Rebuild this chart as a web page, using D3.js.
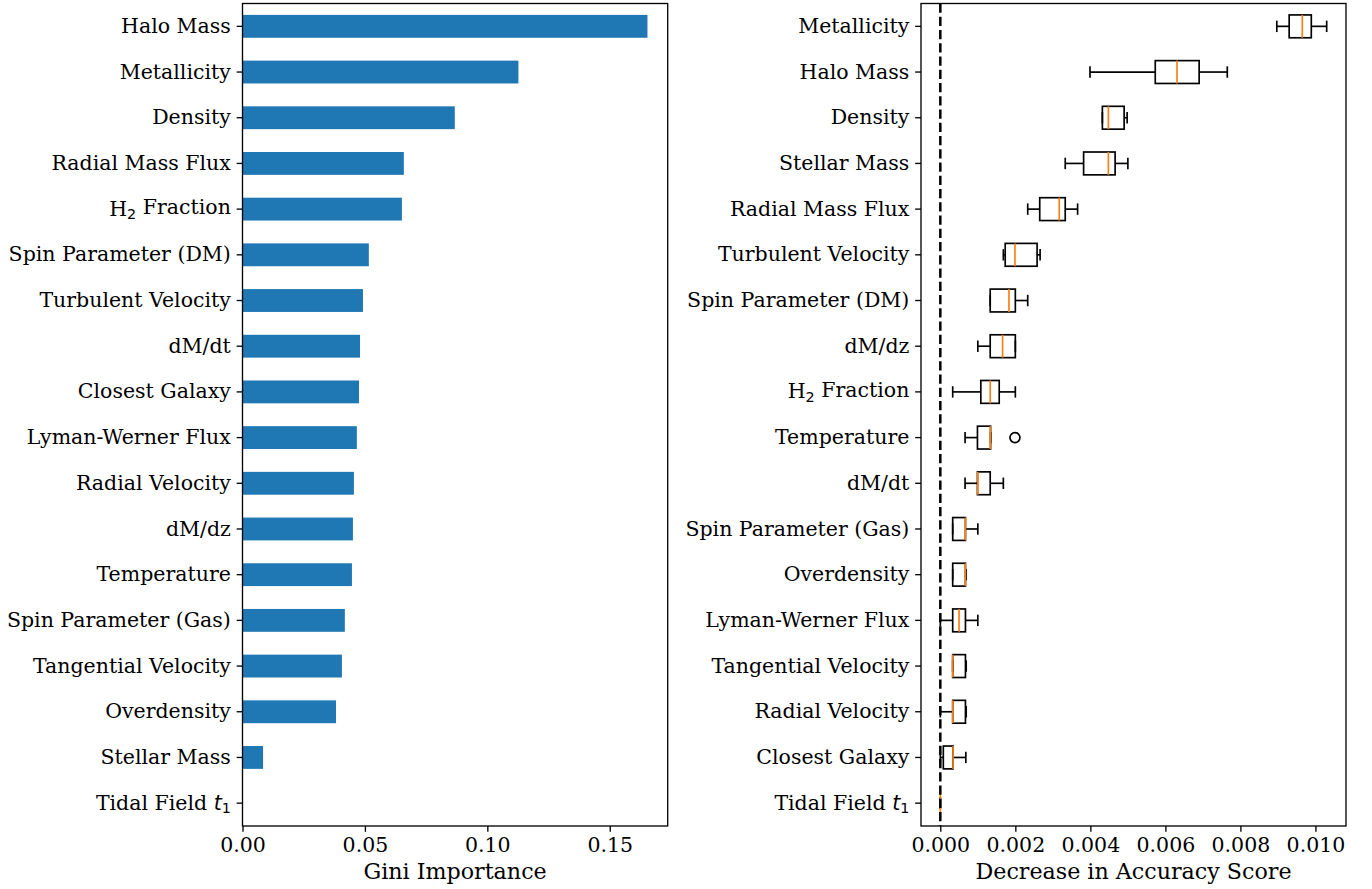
<!DOCTYPE html>
<html>
<head>
<meta charset="utf-8">
<script src="https://cdn.jsdelivr.net/npm/d3@7"></script>
<style>
  html, body { margin: 0; padding: 0; background: #ffffff; }
  svg { display: block; }
  text { font-family: "DejaVu Serif", serif; fill: #000; }
</style>
</head>
<body>
<svg id="chart" width="1372" height="889"></svg>
<script>
// ---- Gini importance (left panel), ordered top to bottom ----
const giniFeatures = [
  "Halo Mass", "Metallicity", "Density", "Radial Mass Flux", "H$_2$ Fraction",
  "Spin Parameter (DM)", "Turbulent Velocity", "dM/dt", "Closest Galaxy",
  "Lyman-Werner Flux", "Radial Velocity", "dM/dz", "Temperature",
  "Spin Parameter (Gas)", "Tangential Velocity", "Overdensity", "Stellar Mass",
  "Tidal Field $t_1$"
];
const giniValues = [
  0.1654, 0.1127, 0.0867, 0.0659, 0.0651,
  0.0516, 0.0492, 0.0480, 0.0476,
  0.0467, 0.0455, 0.0451, 0.0447,
  0.0418, 0.0406, 0.0382, 0.0084,
  0.0000
];
const giniTicks = [0, 0.05, 0.10, 0.15];

// ---- Permutation importance (right panel), ordered top to bottom ----
const permFeatures = [
  "Metallicity", "Halo Mass", "Density", "Stellar Mass", "Radial Mass Flux",
  "Turbulent Velocity", "Spin Parameter (DM)", "dM/dz", "H$_2$ Fraction",
  "Temperature", "dM/dt", "Spin Parameter (Gas)", "Overdensity",
  "Lyman-Werner Flux", "Tangential Velocity", "Radial Velocity",
  "Closest Galaxy", "Tidal Field $t_1$"
];
const permWhiskerLow = [
  0.00897, 0.00399, 0.00432, 0.00333, 0.00233,
  0.00168, 0.00133, 0.00100, 0.00033,
  0.00066, 0.00066, 0.00033, 0.00033,
  0.00000, 0.00033, 0.00000,
  0.00000, 0.00000
];
const permQ1 = [
  0.00930, 0.00573, 0.00432, 0.00382, 0.00265,
  0.00173, 0.00133, 0.00133, 0.00108,
  0.00099, 0.00099, 0.00033, 0.00033,
  0.00033, 0.00033, 0.00033,
  0.00008, 0.00000
];
const permMedian = [
  0.00965, 0.00631, 0.00448, 0.00448, 0.00317,
  0.00199, 0.00183, 0.00166, 0.00133,
  0.00133, 0.00100, 0.00067, 0.00067,
  0.00050, 0.00033, 0.00033,
  0.00034, 0.00000
];
const permQ3 = [
  0.00989, 0.00690, 0.00490, 0.00466, 0.00333,
  0.00258, 0.00200, 0.00200, 0.00157,
  0.00134, 0.00133, 0.00067, 0.00067,
  0.00067, 0.00067, 0.00067,
  0.00034, 0.00000
];
const permWhiskerHigh = [
  0.01030, 0.00765, 0.00498, 0.00500, 0.00366,
  0.00266, 0.00233, 0.00200, 0.00200,
  0.00134, 0.00168, 0.00100, 0.00069,
  0.00100, 0.00069, 0.00069,
  0.00068, 0.00000
];
const permFliers = [
  [], [], [], [], [],
  [], [], [], [],
  [0.00199], [], [], [],
  [], [], [],
  [], []
];
const permTicks = [0, 0.002, 0.004, 0.006, 0.008, 0.010];

// ---- Layout ----
const PT = 1.667;               // px per point
const FONT = 20.5;              // tick label size in px
const LABEL_FONT = 22.2;        // axis title size in px
const TICK = 3.5 * PT;
const PAD = 3.5 * PT;
const plotTop = 3.5, plotBottom = 826;
const leftBox = { x0: 242.5, x1: 667.7 };
const rightBox = { x0: 921, x1: 1346 };
const barColor = "#1f77b4";
const medianColor = "#ff7f0e";

const svg = d3.select("#chart");

// Writes a label that may contain simple $base_sub$ math fragments.
function writeLabel(textSel, label) {
  textSel.text(null);
  const segs = [];
  label.split("$").forEach((part, i) => {
    if (part === "") return;
    if (i % 2 === 0) { segs.push({ text: part, kind: "plain" }); return; }
    const m = part.match(/^([^_]*)_(.+)$/);
    if (m) {
      if (m[1]) segs.push({ text: m[1], kind: "math" });
      segs.push({ text: m[2], kind: "sub" });
    } else {
      segs.push({ text: part, kind: "math" });
    }
  });
  let shift = 0;
  segs.forEach(s => {
    const ts = textSel.append("tspan").text(s.text);
    const target = s.kind === "sub" ? 0.22 : 0;
    if (target !== shift) { ts.attr("dy", (target - shift) + "em"); shift = target; }
    if (s.kind !== "plain") ts.style("font-family", "'DejaVu Sans', sans-serif");
    if (s.kind === "math") ts.style("font-style", "italic");
    if (s.kind === "sub") ts.style("font-size", (FONT * 0.7) + "px");
  });
}

function drawFrame(box) {
  svg.append("rect")
    .attr("x", box.x0).attr("y", plotTop)
    .attr("width", box.x1 - box.x0).attr("height", plotBottom - plotTop)
    .attr("fill", "none").attr("stroke", "#000").attr("stroke-width", 0.8 * PT);
}

function drawAxes(x, y, box, ticks, fmt, title, labels) {
  const gx = svg.append("g").attr("transform", `translate(0,${plotBottom})`)
    .call(d3.axisBottom(x).tickValues(ticks).tickFormat(fmt)
      .tickSize(TICK).tickPadding(PAD));
  gx.select(".domain").remove();
  gx.selectAll(".tick line").attr("stroke", "#000").attr("stroke-width", 0.8 * PT);
  gx.selectAll("text").style("font-size", FONT + "px")
    .style("font-family", "'DejaVu Serif', serif");

  const gy = svg.append("g").attr("transform", `translate(${box.x0},0)`)
    .call(d3.axisLeft(y).tickSize(TICK).tickPadding(PAD));
  gy.select(".domain").remove();
  gy.selectAll(".tick line").attr("stroke", "#000").attr("stroke-width", 0.8 * PT);
  gy.selectAll(".tick text")
    .style("font-size", FONT + "px")
    .style("font-family", "'DejaVu Serif', serif")
    .each(function (d) { writeLabel(d3.select(this), labels[d]); });

  svg.append("text")
    .attr("x", (box.x0 + box.x1) / 2).attr("y", 879)
    .attr("text-anchor", "middle")
    .style("font-size", LABEL_FONT + "px")
    .text(title);
}

// ---- Left panel: Gini importance bars ----
{
  const idx = d3.range(giniFeatures.length);
  const xMax = d3.max(giniValues) * 1.05;
  const x = d3.scaleLinear().domain([0, xMax]).range([leftBox.x0, leftBox.x1]);
  const y = d3.scaleBand().domain(idx).range([plotTop, plotBottom])
    .paddingInner(0.5).paddingOuter(0.25);

  svg.append("g").selectAll("rect").data(idx).join("rect")
    .attr("x", x(0))
    .attr("y", i => y(i))
    .attr("width", i => x(giniValues[i]) - x(0))
    .attr("height", y.bandwidth())
    .attr("fill", barColor);

  drawFrame(leftBox);
  drawAxes(x, y, leftBox, giniTicks, d3.format(".2f"), "Gini Importance", giniFeatures);
}

// ---- Right panel: permutation importance box plots ----
{
  const idx = d3.range(permFeatures.length);
  const lo = Math.min(0, d3.min(permWhiskerLow));
  const hi = d3.max(permWhiskerHigh);
  const m = (hi - lo) * 0.05;
  const x = d3.scaleLinear().domain([lo - m, hi + m]).range([rightBox.x0, rightBox.x1]);
  const y = d3.scaleBand().domain(idx).range([plotTop, plotBottom])
    .paddingInner(0.5).paddingOuter(0.25);
  const bw = y.bandwidth();
  const lw = 1 * PT;

  const g = svg.append("g");
  idx.forEach(i => {
    const y0 = y(i), yc = y0 + bw / 2;
    const capH = bw / 2;
    const row = g.append("g");
    // whiskers
    row.append("line")
      .attr("x1", x(permWhiskerLow[i])).attr("x2", x(permQ1[i]))
      .attr("y1", yc).attr("y2", yc)
      .attr("stroke", "#000").attr("stroke-width", lw);
    row.append("line")
      .attr("x1", x(permQ3[i])).attr("x2", x(permWhiskerHigh[i]))
      .attr("y1", yc).attr("y2", yc)
      .attr("stroke", "#000").attr("stroke-width", lw);
    // caps
    [permWhiskerLow[i], permWhiskerHigh[i]].forEach(v => {
      row.append("line")
        .attr("x1", x(v)).attr("x2", x(v))
        .attr("y1", yc - capH / 2).attr("y2", yc + capH / 2)
        .attr("stroke", "#000").attr("stroke-width", lw);
    });
    // box
    row.append("rect")
      .attr("x", x(permQ1[i])).attr("y", y0)
      .attr("width", Math.max(0, x(permQ3[i]) - x(permQ1[i])))
      .attr("height", bw)
      .attr("fill", "none").attr("stroke", "#000").attr("stroke-width", lw);
    // median
    row.append("line")
      .attr("x1", x(permMedian[i])).attr("x2", x(permMedian[i]))
      .attr("y1", y0).attr("y2", y0 + bw)
      .attr("stroke", medianColor).attr("stroke-width", lw);
    // outliers
    permFliers[i].forEach(v => {
      row.append("circle")
        .attr("cx", x(v)).attr("cy", yc).attr("r", 3 * PT)
        .attr("fill", "none").attr("stroke", "#000").attr("stroke-width", lw);
    });
  });

  // zero reference line
  svg.append("line")
    .attr("x1", x(0)).attr("x2", x(0))
    .attr("y1", plotTop).attr("y2", plotBottom)
    .attr("stroke", "#000").attr("stroke-width", 1.5 * PT)
    .attr("stroke-dasharray", `${3.7 * 1.5 * PT},${1.6 * 1.5 * PT}`);

  drawFrame(rightBox);
  drawAxes(x, y, rightBox, permTicks, d3.format(".3f"),
    "Decrease in Accuracy Score", permFeatures);
}
</script>
</body>
</html>
